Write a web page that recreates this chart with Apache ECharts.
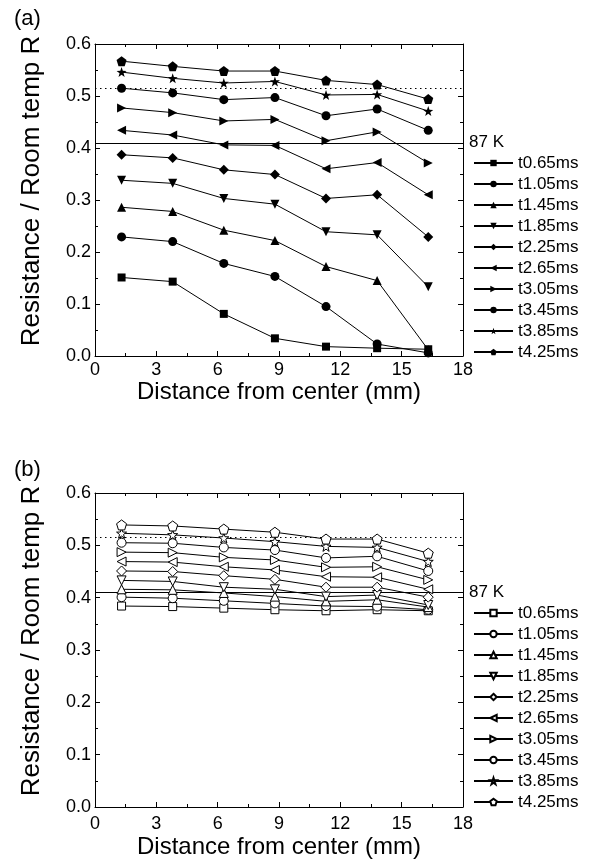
<!DOCTYPE html>
<html>
<head>
<meta charset="utf-8">
<script src="https://cdn.jsdelivr.net/npm/echarts@6/dist/echarts.min.js"></script>
<style>html,body{margin:0;padding:0;background:#fff}#c{width:598px;height:865px}</style>
</head>
<body>
<div id="c"></div>
<script>
// ---- data ----
const distances = [1.3, 3.8, 6.3, 8.8, 11.3, 13.8, 16.3];
const seriesNames = ['t0.65ms','t1.05ms','t1.45ms','t1.85ms','t2.25ms','t2.65ms','t3.05ms','t3.45ms','t3.85ms','t4.25ms'];
const yTicks = [0, 0.1, 0.2, 0.3, 0.4, 0.5, 0.6];
const xTicks = [0, 3, 6, 9, 12, 15, 18];
const level87K = 0.41;
const dottedLevel = 0.515;

// panel (a)
const a_t065 = [0.151, 0.143, 0.081, 0.034, 0.018, 0.015, 0.013];
const a_t105 = [0.229, 0.220, 0.178, 0.153, 0.095, 0.023, 0.006];
const a_t145 = [0.286, 0.278, 0.242, 0.222, 0.172, 0.145, 0.012];
const a_t185 = [0.338, 0.332, 0.303, 0.292, 0.239, 0.233, 0.133];
const a_t225 = [0.387, 0.381, 0.358, 0.349, 0.303, 0.310, 0.229];
const a_t265 = [0.434, 0.425, 0.406, 0.405, 0.360, 0.372, 0.310];
const a_t305 = [0.477, 0.468, 0.452, 0.455, 0.414, 0.431, 0.371];
const a_t345 = [0.515, 0.506, 0.493, 0.497, 0.462, 0.475, 0.434];
const a_t385 = [0.546, 0.534, 0.525, 0.528, 0.502, 0.503, 0.471];
const a_t425 = [0.567, 0.557, 0.548, 0.548, 0.530, 0.522, 0.494];

// panel (b)
const b_t065 = [0.384, 0.383, 0.380, 0.377, 0.375, 0.377, 0.375];
const b_t105 = [0.401, 0.399, 0.394, 0.389, 0.384, 0.383, 0.377];
const b_t145 = [0.416, 0.415, 0.409, 0.402, 0.393, 0.396, 0.382];
const b_t185 = [0.433, 0.431, 0.420, 0.416, 0.402, 0.405, 0.386];
const b_t225 = [0.451, 0.450, 0.442, 0.435, 0.420, 0.420, 0.401];
const b_t265 = [0.469, 0.468, 0.459, 0.453, 0.440, 0.439, 0.416];
const b_t305 = [0.487, 0.486, 0.477, 0.472, 0.458, 0.459, 0.434];
const b_t345 = [0.505, 0.504, 0.496, 0.491, 0.476, 0.479, 0.451];
const b_t385 = [0.523, 0.520, 0.514, 0.507, 0.498, 0.496, 0.469];
const b_t425 = [0.539, 0.537, 0.531, 0.525, 0.512, 0.512, 0.485];

const panelA = [a_t065, a_t105, a_t145, a_t185, a_t225, a_t265, a_t305, a_t345, a_t385, a_t425];
const panelB = [b_t065, b_t105, b_t145, b_t185, b_t225, b_t265, b_t305, b_t345, b_t385, b_t425];

// ---- styles ----
const FONT = 'Liberation Sans, Arial, sans-serif';
const STAR = 'path://M0,-10L2.35,-3.24L9.51,-3.09L3.8,1.24L5.88,8.09L0,4L-5.88,8.09L-3.8,1.24L-9.51,-3.09L-2.35,-3.24Z';
const PENT = 'path://M0,-10L9.51,-3.09L5.88,8.09L-5.88,8.09L-9.51,-3.09Z';
const markers = [
  {symbol:'rect', size:8, rot:0},
  {symbol:'circle', size:9, rot:0},
  {symbol:'triangle', size:9, rot:0},
  {symbol:'triangle', size:9, rot:180},
  {symbol:'diamond', size:10, rot:0},
  {symbol:'triangle', size:9, rot:90},
  {symbol:'triangle', size:9, rot:-90},
  {symbol:'circle', size:9, rot:0},
  {symbol:STAR, size:10, rot:0},
  {symbol:PENT, size:10, rot:0}
];

function xAxes(gi, labelMargin, nameGap) {
  return [
    {gridIndex:gi, type:'value', min:0, max:18, interval:3, position:'bottom',
     axisLine:{show:true, onZero:false, lineStyle:{color:'#000', width:1}},
     axisTick:{show:true, inside:true, length:5, lineStyle:{color:'#000'}},
     minorTick:{show:true, splitNumber:2, length:3, lineStyle:{color:'#000'}},
     splitLine:{show:false},
     axisLabel:{show:true, fontSize:18, color:'#000', fontFamily:FONT, margin:labelMargin},
     name:'Distance from center (mm)', nameLocation:'middle', nameGap:nameGap,
     nameTextStyle:{fontSize:24, color:'#000', fontFamily:FONT}},
    {gridIndex:gi, type:'value', min:0, max:18, interval:3, position:'top',
     axisLine:{show:true, onZero:false, lineStyle:{color:'#000', width:1}},
     axisTick:{show:true, inside:true, length:5, lineStyle:{color:'#000'}},
     minorTick:{show:true, splitNumber:2, length:3, lineStyle:{color:'#000'}},
     splitLine:{show:false}, axisLabel:{show:false}}
  ];
}
function yAxes(gi) {
  return [
    {gridIndex:gi, type:'value', min:0, max:0.6, interval:0.1, position:'left',
     axisLine:{show:true, onZero:false, lineStyle:{color:'#000', width:1}},
     axisTick:{show:true, inside:true, length:5, lineStyle:{color:'#000'}},
     minorTick:{show:true, splitNumber:2, length:3, lineStyle:{color:'#000'}},
     splitLine:{show:false},
     axisLabel:{show:true, fontSize:18, color:'#000', fontFamily:FONT, margin:4,
       formatter: v => v.toFixed(1)},
     name:'Resistance / Room temp R', nameLocation:'middle', nameGap:50,
     nameTextStyle:{fontSize:26, color:'#000', fontFamily:FONT, padding:[0,0,0,18]}},
    {gridIndex:gi, type:'value', min:0, max:0.6, interval:0.1, position:'right',
     axisLine:{show:true, onZero:false, lineStyle:{color:'#000', width:1}},
     axisTick:{show:true, inside:true, length:5, lineStyle:{color:'#000'}},
     minorTick:{show:true, splitNumber:2, length:3, lineStyle:{color:'#000'}},
     splitLine:{show:false}, axisLabel:{show:false}}
  ];
}

function buildSeries(panel, prefix, axisIdx, hollow) {
  return panel.map((vals, i) => {
    const m = markers[i];
    const s = {
      name: prefix + seriesNames[i],
      type: 'line',
      xAxisIndex: axisIdx, yAxisIndex: axisIdx,
      data: distances.map((d, k) => [d, vals[k]]),
      symbol: m.symbol, symbolSize: m.size, symbolRotate: m.rot,
      showAllSymbol: true,
      lineStyle: {color:'#000', width:1},
      itemStyle: hollow ? {color:'#fff', borderColor:'#000', borderWidth:1}
                        : {color:'#000', borderColor:'#000', borderWidth:0},
      emphasis: {disabled:true},
      animation: false, z: 3 + i
    };
    if (i === 0) {
      s.markLine = {
        silent: true, symbol: ['none','none'], animation:false,
        data: [
          [{coord:[0, level87K], lineStyle:{color:'#000', width:1.2, type:'solid'},
            label:{show:true, position:'end', formatter:'87 K', fontSize:17, color:'#000', fontFamily:FONT, distance:6}},
           {coord:[18, level87K]}],
          [{coord:[0, dottedLevel], lineStyle:{color:'#000', width:1, type:[1.5,3.5]}, label:{show:false}},
           {coord:[18, dottedLevel]}]
        ]
      };
    }
    return s;
  });
}

const chart = echarts.init(document.getElementById('c'), null, {renderer:'canvas'});
const legendCommon = {
  orient:'vertical', left:473, itemWidth:39, itemHeight:8, itemGap:4, padding:0,
  textStyle:{fontSize:17, color:'#000', fontFamily:FONT},
  inactiveColor:'#000', selectedMode:false,
  formatter: n => n.slice(2)
};
chart.setOption({
  backgroundColor:'#fff',
  animation:false,
  title:[
    {text:'(a)', left:9, top:3, textStyle:{fontSize:22, fontWeight:'normal', color:'#000', fontFamily:FONT}},
    {text:'(b)', left:9, top:454, textStyle:{fontSize:22, fontWeight:'normal', color:'#000', fontFamily:FONT}}
  ],
  grid:[
    {left:95, top:44, width:368, height:312},
    {left:95, top:493, width:368, height:314}
  ],
  xAxis: [...xAxes(0, 5, 22), ...xAxes(1, 8, 28)],
  yAxis: [...yAxes(0), ...yAxes(1)],
  legend:[
    Object.assign({}, legendCommon, {top:154.5, data: seriesNames.map(n => 'a:' + n)}),
    Object.assign({}, legendCommon, {top:604.5, data: seriesNames.map(n => 'b:' + n)})
  ],
  series:[
    ...buildSeries(panelA, 'a:', 0, false),
    ...buildSeries(panelB, 'b:', 2, true)
  ]
});
</script>
</body>
</html>
